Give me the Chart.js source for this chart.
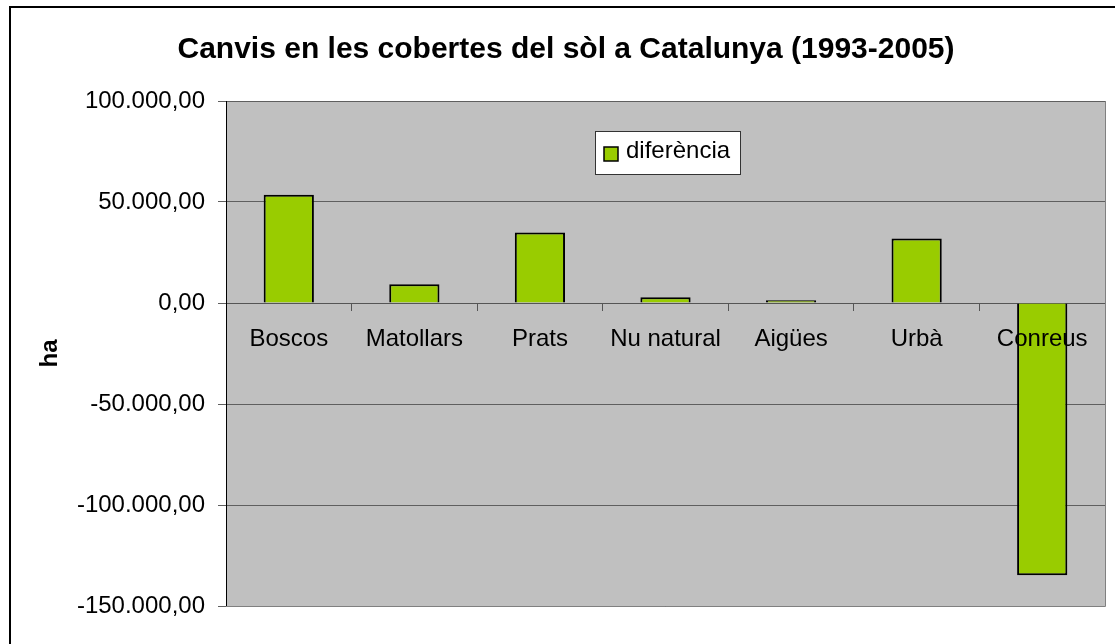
<!DOCTYPE html>
<html><head><meta charset="utf-8">
<script src="https://cdn.jsdelivr.net/npm/chart.js@4"></script>
<style>html,body{margin:0;padding:0;background:#fff;} canvas{display:block;}</style>
</head><body>
<canvas id="c" width="1115" height="644"></canvas>
<script>
const categories = ['Boscos', 'Matollars', 'Prats', 'Nu natural', 'Aigües', 'Urbà', 'Conreus'];
const seriesName = 'diferència';
const diferencia = [53600, 9300, 34900, 2900, 1300, 31900, -134800];
const yTickValues = [100000, 50000, 0, -50000, -100000, -150000];
const yTickLabels = ['100.000,00', '50.000,00', '0,00', '-50.000,00', '-100.000,00', '-150.000,00'];
const chartTitle = 'Canvis en les cobertes del sòl a Catalunya (1993-2005)';
const yAxisTitle = 'ha';

const FAMILY = '"Liberation Sans", Arial, sans-serif';

const deco = {
  id: 'deco',
  beforeDraw(chart) {
    const {ctx, chartArea: a} = chart;
    ctx.save();
    ctx.fillStyle = '#fff';
    ctx.fillRect(0, 0, chart.width, chart.height);
    ctx.fillStyle = '#C0C0C0';
    ctx.fillRect(a.left, a.top, a.right - a.left, a.bottom - a.top);
    ctx.restore();
  },
  afterDraw(chart) {
    const {ctx, chartArea: a} = chart;
    ctx.save();
    ctx.strokeStyle = '#808080';
    ctx.lineWidth = 1;
    ctx.beginPath();
    ctx.moveTo(a.right + 0.5, a.top);
    ctx.lineTo(a.right + 0.5, a.bottom + 0.5);
    ctx.lineTo(a.left, a.bottom + 0.5);
    ctx.stroke();
    // outer frame
    ctx.strokeStyle = '#000';
    ctx.lineWidth = 2;
    ctx.strokeRect(10, 7, chart.width + 20, chart.height + 20);
    // legend
    const ds = chart.data.datasets[0];
    const lw = 145, lh = 43;
    const lx = Math.round((a.left + a.right) / 2 - 70.5), ly = Math.round(a.top + 30);
    ctx.fillStyle = '#fff';
    ctx.fillRect(lx, ly, lw, lh);
    ctx.strokeStyle = '#333';
    ctx.lineWidth = 1;
    ctx.strokeRect(lx + 0.5, ly + 0.5, lw, lh);
    ctx.fillStyle = ds.backgroundColor;
    ctx.fillRect(lx + 9, ly + 16, 14, 14);
    ctx.strokeStyle = '#000';
    ctx.lineWidth = 1.5;
    ctx.strokeRect(lx + 9, ly + 16, 14, 14);
    ctx.fillStyle = '#000';
    ctx.font = '24px ' + FAMILY;
    ctx.textBaseline = 'middle';
    ctx.textAlign = 'left';
    ctx.fillText(ds.label, lx + 31, ly + 20);
    ctx.restore();
  }
};

new Chart(document.getElementById('c'), {
  type: 'bar',
  data: {
    labels: categories,
    datasets: [{
      label: seriesName,
      data: diferencia,
      backgroundColor: '#99CC00',
      borderColor: '#000',
      borderWidth: 2,
      barPercentage: 0.4,
      categoryPercentage: 1.0
    }]
  },
  plugins: [deco],
  options: {
    responsive: false,
    animation: false,
    layout: {padding: {left: 27, right: 10, top: 0, bottom: 38}},
    plugins: {
      legend: {display: false},
      tooltip: {enabled: false},
      title: {
        display: true, text: chartTitle, color: '#000',
        font: {family: FAMILY, size: 30, weight: 'bold', lineHeight: 1.2},
        padding: {top: 32, bottom: 33}
      }
    },
    scales: {
      x: {
        position: {y: 0},
        offset: true,
        grid: {drawOnChartArea: false, drawTicks: true, tickLength: 7, offset: true, color: '#555', lineWidth: 1},
        border: {display: true, color: '#555', width: 1},
        ticks: {z: 1, color: '#000', font: {family: FAMILY, size: 24}, padding: 15, maxRotation: 0, autoSkip: false}
      },
      y: {
        min: -150000, max: 100000,
        afterBuildTicks: s => { s.ticks = yTickValues.map(v => ({value: v})); },
        afterFit: s => { s.width = 199; },
        ticks: {
          color: '#000', font: {family: FAMILY, size: 24}, padding: 13,
          callback: (v) => yTickLabels[yTickValues.indexOf(v)]
        },
        grid: {color: '#5f5f5f', lineWidth: 1, tickLength: 8, drawTicks: true},
        border: {display: true, color: '#000', width: 1},
        title: {
          display: true, text: yAxisTitle, color: '#000',
          font: {family: FAMILY, size: 24, weight: 'bold', lineHeight: 1.2},
          padding: {top: 9, bottom: 0}
        }
      }
    }
  }
});
</script>
</body></html>
